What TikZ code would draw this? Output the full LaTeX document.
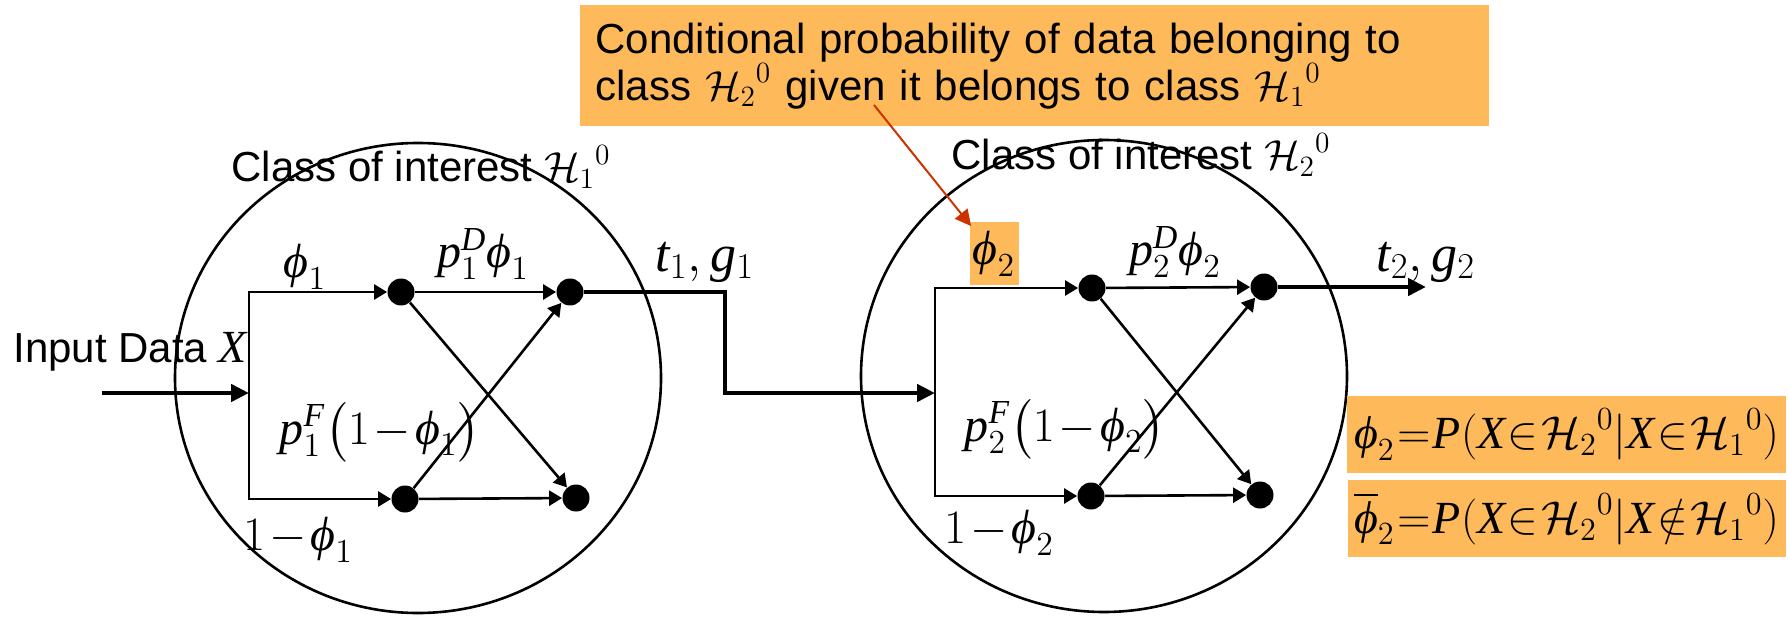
\RequirePackage{fix-cm}
\documentclass[tikz,border=0pt]{standalone}
\usepackage{exscale}
\usepackage{fontspec}
\setmainfont{Liberation Serif}
\setsansfont{Liberation Sans}
\usetikzlibrary{arrows.meta,positioning,calc}
\definecolor{hlorange}{HTML}{FDB95A}
\definecolor{callred}{HTML}{CC3300}
\newcommand{\tphi}{\mathord{\textit{ϕ}}}
\newcommand{\hcls}[1]{{\mathcal{H}_{#1}}^{0}}

\begin{document}
\begin{tikzpicture}[
  x=0.5pt, y=-0.5pt,
  dot/.style={circle, fill=black, inner sep=0pt, minimum size=13.5pt},
  flow/.style={-{Triangle[length=6.5pt,width=7.5pt]}, line width=1.3pt},
  bigflow/.style={-{Triangle[length=9pt,width=8.5pt]}, line width=2.3pt},
  classring/.style={line width=1.3pt},
  txt/.style={font=\sffamily\fontsize{21}{22.5}\selectfont, inner sep=0pt},
  lbl/.style={font=\fontsize{24}{28}\selectfont, inner sep=0pt},
  eqn/.style={font=\fontsize{23}{27}\selectfont, inner sep=0pt},
  hl/.style={fill=hlorange},
  callarrow/.style={-{Triangle[length=8pt,width=8pt]}, callred, line width=1pt},
]
\useasboundingbox (0,0) rectangle (1788,620);
\thickmuskip=1mu \medmuskip=1.5mu

%% ---- Class 1 ----
\draw[classring] (418,378) ellipse [x radius=243, y radius=235];
\node[txt, anchor=base] (cls1) at (421,182) {Class of interest $\hcls{1}$};

\node[dot] (a1) at (401,292) {};
\node[dot] (b1) at (570,292) {};
\node[dot] (c1) at (405,499) {};
\node[dot] (d1) at (576,498) {};
\coordinate (in) at (102,393);
\coordinate (s1) at (249,393);

\draw[bigflow] (in) -- (s1);
\draw[flow] (s1) |- (a1);
\draw[flow] (s1) |- (c1);
\draw[flow] (a1) -- (b1);
\draw[flow] (c1) -- (d1);
\draw[flow] (a1) -- (d1);
\draw[flow] (c1) -- (b1);

\node[txt, anchor=base west] (inlbl) at (13,362) {Input Data {\rmfamily\itshape\fontsize{23}{27}\selectfont X}};
\node[lbl] (f1) at (305,267) {$\tphi_1$};
\node[lbl] (pd1) at (483,254) {$\mathit{p}_1^{\mathit{D}}\tphi_1$};
\node[lbl] (pf1) at (380,432) {$\mathit{p}_1^{\mathit{F}}\bigl(1-\tphi_1\bigr)$};
\node[lbl] (nf1) at (298,540) {$1-\tphi_1$};
\node[lbl, font=\fontsize{26}{30}\selectfont, anchor=west] (tg1) at (655,262) {$\mathit{t}_1, \mathit{g}_1$};

%% ---- Link between the classes ----
\coordinate (k1) at (725,292);
\coordinate (s2) at (935,393);
\draw[bigflow] (b1) -- (k1) |- (s2);

%% ---- Class 2 ----
\draw[classring] (1104,376) ellipse [x radius=243, y radius=236];
\node[txt, anchor=base] (cls2) at (1141,170) {Class of interest $\hcls{2}$};

\node[dot] (a2) at (1092,288) {};
\node[dot] (b2) at (1264,287) {};
\node[dot] (c2) at (1091,496) {};
\node[dot] (d2) at (1260,495) {};
\coordinate (out) at (1426,287);

\draw[flow] (s2) |- (a2);
\draw[flow] (s2) |- (c2);
\draw[flow] (a2) -- (b2);
\draw[flow] (c2) -- (d2);
\draw[flow] (a2) -- (d2);
\draw[flow] (c2) -- (b2);
\draw[bigflow] (b2) -- (out);

\node[lbl, hl, minimum width=24.5pt, minimum height=31.5pt] (phibox) at (994,254) {$\tphi_2$};
\node[lbl] (pd2) at (1175,252) {$\mathit{p}_2^{\mathit{D}}\tphi_2$};
\node[lbl] (pf2) at (1065,429) {$\mathit{p}_2^{\mathit{F}}\bigl(1-\tphi_2\bigr)$};
\node[lbl] (nf2) at (999,533) {$1-\tphi_2$};
\node[lbl, font=\fontsize{26}{30}\selectfont, anchor=west] (tg2) at (1376,262) {$\mathit{t}_2, \mathit{g}_2$};

%% ---- Callout ----
\node[txt, hl, anchor=north west, align=left, inner xsep=7.5pt,
      minimum width=454.5pt, minimum height=60.5pt, text width=439.5pt] (callout) at (580,5)
  {Conditional probability of data belonging to\\class $\hcls{2}$ given it belongs to class $\hcls{1}$};
\coordinate (cstart) at (874,105);
\draw[callarrow] (cstart) -- ($(phibox.north west)+(2,4)$);

%% ---- Definitions on the right ----
\node[eqn, hl, minimum width=219.5pt, minimum height=38.5pt] (eq1) at (1566.5,434.5)
  {$\tphi_2=\mathit{P}(\mathit{X}\in\hcls{2}|\mathit{X}\in\hcls{1})$};
\node[eqn, hl, minimum width=219pt, minimum height=38.5pt, below=3pt of eq1] (eq2)
  {$\overline{\tphi}_2=\mathit{P}(\mathit{X}\in\hcls{2}|\mathit{X}\notin\hcls{1})$};

\end{tikzpicture}
\end{document}
